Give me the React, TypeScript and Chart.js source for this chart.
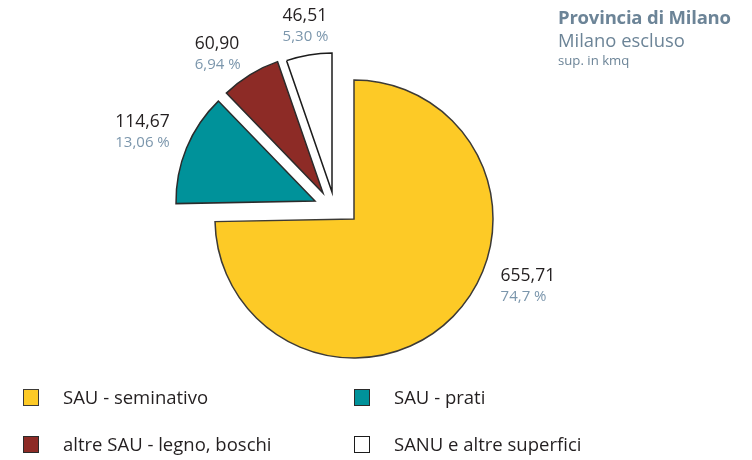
import React, { useEffect, useRef } from "react";
import { Chart, registerables } from "chart.js";

Chart.register(...registerables);

// ---- data ----
const categories = [
  "SAU - seminativo",
  "SAU - prati",
  "altre SAU - legno, boschi",
  "SANU e altre superfici",
];
const areaKmq = [655.71, 114.67, 60.9, 46.51];
const valueLabels = ["655,71", "114,67", "60,90", "46,51"];
const percentLabels = ["74,7 %", "13,06 %", "6,94 %", "5,30 %"];
const titleLines = ["Provincia di Milano", "Milano escluso", "sup. in kmq"];

// ---- styles ----
const sliceColors = ["#FDCA26", "#00929A", "#8D2B26", "#FFFFFF"];
const sliceBorders = ["#3c3a36", "#2b2b2b", "#2b2b2b", "#1c1c1c"];
const FONT = "'Open Sans', 'Noto Sans', sans-serif";
const TITLE_COLOR = "#6C8497";
const PCT_COLOR = "#7B96AC";
const TEXT_COLOR = "#231F20";

// explode displacement for detached slices (style)
const explodeShift: [number, number][] = [
  [0, 0],
  [-39, -18],
  [-31, -26],
  [-22, -27],
];
// label placement relative to each slice centre (angle in deg clockwise from top, distance px)
const labelPlacement = [
  { angle: 110.8, dist: 186 },
  { angle: 292, dist: 186 },
  { angle: 323, dist: 175 },
  { angle: 351, dist: 169 },
];

const explodePlugin = {
  id: "explodeShift",
  afterDatasetsUpdate(chart: any) {
    const meta = chart.getDatasetMeta(0);
    meta.data.forEach((el: any, i: number) => {
      const s = explodeShift[i] || [0, 0];
      el.x += s[0];
      el.y += s[1];
    });
  },
};

const labelPlugin = {
  id: "sliceLabels",
  afterDatasetsDraw(chart: any) {
    const ctx = chart.ctx;
    const meta = chart.getDatasetMeta(0);
    ctx.save();
    meta.data.forEach((el: any, i: number) => {
      const p = labelPlacement[i];
      const a = (p.angle * Math.PI) / 180;
      const cx = el.x + Math.sin(a) * p.dist;
      const cy = el.y - Math.cos(a) * p.dist;
      const vFont = `17.5px ${FONT}`;
      const pFont = `15px ${FONT}`;
      ctx.font = vFont;
      const w1 = ctx.measureText(valueLabels[i]).width;
      ctx.font = pFont;
      const w2 = ctx.measureText(percentLabels[i]).width;
      const left = cx - Math.max(w1, w2) / 2;
      ctx.textAlign = "left";
      ctx.textBaseline = "alphabetic";
      ctx.font = vFont;
      ctx.fillStyle = TEXT_COLOR;
      ctx.fillText(valueLabels[i], left, cy - 4);
      ctx.font = pFont;
      ctx.fillStyle = PCT_COLOR;
      ctx.fillText(percentLabels[i], left, cy + 16);
    });
    ctx.restore();
  },
};

const legendPos = [
  { x: 23, y: 397 },
  { x: 354, y: 397 },
  { x: 23, y: 444 },
  { x: 354, y: 444 },
];

export default function App() {
  const canvasRef = useRef<HTMLCanvasElement | null>(null);

  useEffect(() => {
    if (!canvasRef.current) return;
    const chart = new Chart(canvasRef.current, {
      type: "pie",
      data: {
        labels: categories,
        datasets: [
          {
            data: areaKmq,
            backgroundColor: sliceColors,
            borderColor: sliceBorders,
            borderWidth: 1.5,
            borderJoinStyle: "miter",
            radius: 139,
          } as any,
        ],
      },
      options: {
        responsive: false,
        animation: false,
        events: [],
        layout: { padding: { left: 0, right: 44, top: 0, bottom: 22 } },
        plugins: {
          legend: { display: false },
          tooltip: { enabled: false },
          title: { display: false },
        },
      },
      plugins: [explodePlugin, labelPlugin],
    });
    return () => chart.destroy();
  }, []);

  return (
    <div
      style={{
        position: "absolute",
        left: 0,
        top: 0,
        width: 752,
        height: 460,
        background: "#fff",
        overflow: "hidden",
        fontFamily: FONT,
      }}
    >
      <canvas
        ref={canvasRef}
        width={752}
        height={460}
        style={{ position: "absolute", left: 0, top: 0, display: "block" }}
      />
      <div style={{ position: "absolute", left: 558, top: 5, color: TITLE_COLOR }}>
        <div style={{ fontSize: 18.5, fontWeight: 700, lineHeight: "24px", letterSpacing: -0.2 }}>
          {titleLines[0]}
        </div>
        <div style={{ fontSize: 18.4, lineHeight: "22px" }}>{titleLines[1]}</div>
        <div style={{ fontSize: 13.2, lineHeight: "18px" }}>{titleLines[2]}</div>
      </div>
      {categories.map((c, i) => (
        <div
          key={c}
          style={{
            position: "absolute",
            left: legendPos[i].x,
            top: legendPos[i].y - 11,
            height: 22,
            display: "flex",
            alignItems: "center",
          }}
        >
          <div
            style={{
              width: 16,
              height: 17,
              background: sliceColors[i],
              border: `1px solid ${sliceBorders[i]}`,
              boxSizing: "border-box",
            }}
          />
          <div
            style={{
              marginLeft: 24,
              fontSize: 18.5,
              lineHeight: "22px",
              color: TEXT_COLOR,
              whiteSpace: "nowrap",
            }}
          >
            {c}
          </div>
        </div>
      ))}
    </div>
  );
}
